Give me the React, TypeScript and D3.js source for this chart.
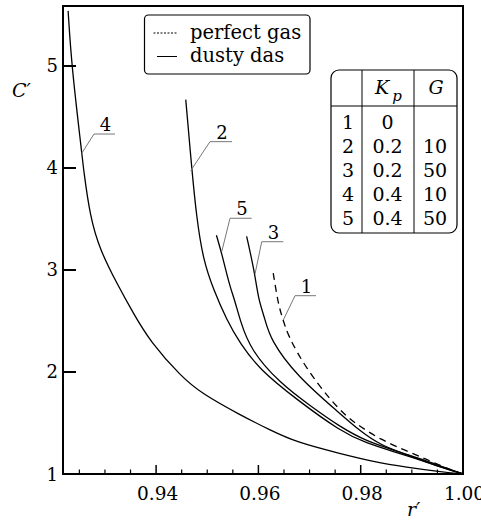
import React from 'react';
import * as d3 from 'd3';

// curve data: [r', C']
const curve1 = [
  [0.9629, 2.97], [0.9639, 2.66], [0.9646, 2.55], [0.9658, 2.35], [0.9694, 2.03],
  [0.974, 1.73], [0.9773, 1.56], [0.9799, 1.465], [0.9838, 1.34], [0.989, 1.225],
  [0.9935, 1.13], [0.9981, 1.03], [1.0, 1.0],
];
const curve2 = [
  [0.9458, 4.67], [0.947, 3.98], [0.9479, 3.52], [0.9492, 3.1], [0.9512, 2.81],
  [0.9538, 2.51], [0.9564, 2.28], [0.9603, 2.02], [0.9675, 1.73], [0.976, 1.42],
  [0.9812, 1.3], [0.9864, 1.22], [0.9916, 1.14], [0.9955, 1.07], [1.0, 1.0],
];
const curve3 = [
  [0.9577, 3.33], [0.9593, 2.97], [0.96, 2.71], [0.9613, 2.52], [0.9623, 2.32],
  [0.9675, 1.96], [0.976, 1.59], [0.9799, 1.42], [0.9838, 1.285], [0.989, 1.19],
  [0.9942, 1.09], [1.0, 1.0],
];
const curve4 = [
  [0.9228, 5.54], [0.9235, 4.99], [0.9255, 4.14], [0.9258, 3.99], [0.9271, 3.52],
  [0.929, 3.2], [0.9323, 2.87], [0.9355, 2.58], [0.9388, 2.3], [0.945, 1.95],
  [0.9489, 1.79], [0.9564, 1.58], [0.9623, 1.43], [0.9675, 1.31], [0.976, 1.2],
  [0.9825, 1.12], [0.989, 1.066], [0.9955, 1.023], [1.0, 1.0],
];
const curve5 = [
  [0.9518, 3.34], [0.9528, 3.17], [0.9544, 2.84], [0.9554, 2.7], [0.9564, 2.51],
  [0.9584, 2.22], [0.9642, 1.89], [0.9701, 1.67], [0.976, 1.46], [0.9812, 1.32],
  [0.9864, 1.235], [0.9916, 1.15], [0.9955, 1.08], [1.0, 1.0],
];

const curves = [
  { id: '1', data: curve1, dashed: true },
  { id: '2', data: curve2, dashed: false },
  { id: '3', data: curve3, dashed: false },
  { id: '4', data: curve4, dashed: false },
  { id: '5', data: curve5, dashed: false },
];

// leader lines: anchor on curve, elbow, end of the horizontal
const labels = [
  { id: '4', anchor: [0.92546, 4.144], elbow: [0.92786, 4.333], end: 0.93197 },
  { id: '2', anchor: [0.94677, 3.974], elbow: [0.95054, 4.258], end: 0.95484 },
  { id: '5', anchor: [0.95283, 3.179], elbow: [0.95445, 3.507], end: 0.95869 },
  { id: '3', anchor: [0.95934, 2.961], elbow: [0.96065, 3.277], end: 0.96487 },
  { id: '1', anchor: [0.96487, 2.51], elbow: [0.96716, 2.748], end: 0.97126 },
];

const xTicks = [0.94, 0.96, 0.98, 1.0];
const yTicks = [1, 2, 3, 4, 5];

const tableRows = [
  ['1', '0', ''],
  ['2', '0.2', '10'],
  ['3', '0.2', '50'],
  ['4', '0.4', '10'],
  ['5', '0.4', '50'],
];

const legendItems = [
  { label: 'perfect gas', dash: '2,1.5' },
  { label: 'dusty das', dash: null },
];

const font = "'DejaVu Serif'";

export default function App() {
  const left = 63;
  const right = 463;
  const top = 6;
  const bottom = 474;

  const x = d3.scaleLinear().domain([0.9218, 1.0]).range([left, right]);
  const y = d3.scaleLinear().domain([1, 5.588]).range([bottom, top]);

  const line = d3
    .line<number[]>()
    .x((d) => x(d[0]))
    .y((d) => y(d[1]))
    .curve(d3.curveBasis);

  const minorTicks = d3.range(0.925, 1.0, 0.005).filter(
    (t) => !xTicks.some((m) => Math.abs(m - t) < 1e-6)
  );

  // table geometry
  const tb = { x0: 331, x1: 457, y0: 70, y1: 233, c1: 362, c2: 414, hy: 106 };
  const txt = { fontFamily: font, fontWeight: 300 };

  return (
    <svg
      width={481}
      height={520}
      style={{ position: 'absolute', left: 0, top: 0, background: 'white', fontFamily: font }}
    >
      <clipPath id="plot">
        <rect x={left} y={top} width={right - left} height={bottom - top} />
      </clipPath>

      {/* curves */}
      <g clipPath="url(#plot)">
        {curves.map((c) => (
          <path
            key={c.id}
            d={line(c.data) || ''}
            fill="none"
            stroke="#000"
            strokeWidth={1.3}
            strokeDasharray={c.dashed ? '7,5' : undefined}
          />
        ))}
      </g>

      {/* curve labels */}
      {labels.map((l) => (
        <g key={l.id}>
          <polyline
            points={`${x(l.anchor[0])},${y(l.anchor[1])} ${x(l.elbow[0])},${y(l.elbow[1])} ${x(l.end)},${y(l.elbow[1])}`}
            fill="none"
            stroke="#777"
            strokeWidth={1}
          />
          <text
            x={(x(l.elbow[0]) + x(l.end)) / 2 + 1}
            y={y(l.elbow[1]) - 3}
            fontSize={18}
            style={txt}
            textAnchor="middle"
          >
            {l.id}
          </text>
        </g>
      ))}

      {/* frame */}
      <rect
        x={left}
        y={top}
        width={right - left}
        height={bottom - top}
        fill="none"
        stroke="#000"
        strokeWidth={2}
      />

      {/* x ticks */}
      {xTicks.map((t) => (
        <g key={t}>
          <line x1={x(t)} x2={x(t)} y1={bottom} y2={bottom - 9} stroke="#000" strokeWidth={1.5} />
          <text x={x(t) + 1.5} y={500} fontSize={18.5} style={txt} textAnchor="middle">
            {d3.format('.2f')(t)}
          </text>
        </g>
      ))}
      {minorTicks.map((t) => (
        <line key={t} x1={x(t)} x2={x(t)} y1={bottom} y2={bottom - 4.5} stroke="#000" strokeWidth={1.2} />
      ))}

      {/* y ticks */}
      {yTicks.map((t) => (
        <g key={t}>
          <line x1={left} x2={left + 13} y1={y(t)} y2={y(t)} stroke="#000" strokeWidth={2} />
          <text x={58} y={y(t) + 6.5} fontSize={18} style={txt} textAnchor="end">
            {t}
          </text>
        </g>
      ))}

      {/* axis titles */}
      <text x={12} y={97} fontSize={19} style={txt} fontStyle="italic">
        C′
      </text>
      <text x={407} y={516} fontSize={19} style={txt} fontStyle="italic">
        r′
      </text>

      {/* legend */}
      <rect x={144.5} y={15} width={165.5} height={59} rx={4} fill="white" stroke="#000" strokeWidth={1.2} />
      {legendItems.map((it, i) => (
        <g key={it.label}>
          <line
            x1={it.dash ? 153.5 : 157}
            x2={177}
            y1={33 + i * 23.5}
            y2={33 + i * 23.5}
            stroke="#000"
            strokeWidth={1}
            strokeDasharray={it.dash || undefined}
          />
          <text x={190} y={38.5 + i * 23.5} fontSize={19.5} style={txt}>
            {it.label}
          </text>
        </g>
      ))}

      {/* parameter table */}
      <rect
        x={tb.x0}
        y={tb.y0}
        width={tb.x1 - tb.x0}
        height={tb.y1 - tb.y0}
        rx={8}
        fill="white"
        stroke="#000"
        strokeWidth={1.2}
      />
      <line x1={tb.c1} x2={tb.c1} y1={tb.y0} y2={tb.y1} stroke="#000" strokeWidth={1} />
      <line x1={tb.c2} x2={tb.c2} y1={tb.y0} y2={tb.y1} stroke="#000" strokeWidth={1} />
      <line x1={tb.x0} x2={tb.x1} y1={tb.hy} y2={tb.hy} stroke="#000" strokeWidth={1} />
      <text x={375} y={93.5} fontSize={19} style={txt} fontStyle="italic">
        K
        <tspan dx={3} dy={7} fontSize={15}>
          p
        </tspan>
      </text>
      <text x={436} y={93.5} fontSize={19} style={txt} fontStyle="italic" textAnchor="middle">
        G
      </text>
      {tableRows.map((row, i) => (
        <g key={row[0]}>
          {row.map((v, j) => (
            <text
              key={j}
              x={[348, 387.5, 435][j]}
              y={129 + i * 24}
              fontSize={19}
              style={txt}
              textAnchor="middle"
            >
              {v}
            </text>
          ))}
        </g>
      ))}
    </svg>
  );
}
